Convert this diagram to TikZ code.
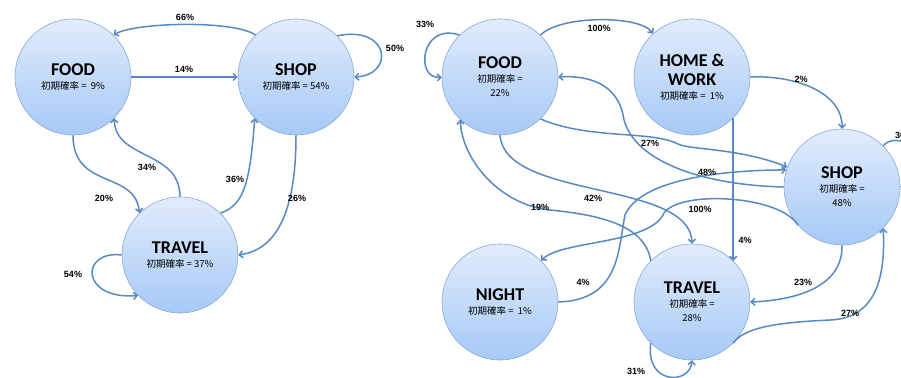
\documentclass[tikz,border=0pt]{standalone}
\usepackage{fontspec}
\setmainfont{Carlito}
\newfontfamily\cjkfont{Noto Sans CJK JP}
\newfontfamily\pctfont{Liberation Sans}
\usetikzlibrary{arrows.meta}
\definecolor{edgeblue}{RGB}{88,137,196}
\definecolor{rimblue}{RGB}{135,168,214}
\definecolor{topblue}{RGB}{226,236,252}
\definecolor{botblue}{RGB}{166,201,247}
\newcommand{\initp}[1]{{\cjkfont\mdseries\fontsize{9.5}{14}\selectfont #1}}
\tikzset{
  state/.style={circle,minimum size=116pt,inner sep=0pt,draw=rimblue,line width=0.6pt,
    top color=topblue,bottom color=botblue,align=center,
    font=\bfseries\fontsize{18}{14}\selectfont},
  trans/.style={->,draw=edgeblue,line width=1.5pt},
  pct/.style={font=\pctfont\bfseries\fontsize{9}{9}\selectfont,inner sep=0pt}
}

\begin{document}
\begin{tikzpicture}[x=1pt,y=-1pt,>={Straight Barb[length=3.5pt,width=7pt]}]
        \useasboundingbox (0,0) rectangle (901,377);
        \clip (0,0) rectangle (901,377);
        % left chain
        \node[state] (lfood) at (73,77) {FOOD\\\initp{初期確率 =\ \ 9\%}};
        \node[state] (lshop) at (296,77) {SHOP\\\initp{初期確率 = 54\%}};
        \node[state] (ltravel) at (180,255) {TRAVEL\\\initp{初期確率 = 37\%}};
        \draw[trans] (lshop.134) .. controls (235,20) and (135,22) .. (lfood.46);
        \draw[trans] (lfood.east) -- (lshop.west);
        \draw[trans] (lshop.45) .. controls (390,25) and (395,75) .. (lshop.east);
        \draw[trans] (lfood.south) .. controls (73,190) and (135,170) .. (ltravel.134);
        \draw[trans] (ltravel.north) .. controls (180,150) and (115,160) .. (lfood.-45);
        \draw[trans] (ltravel.46) .. controls (245,205) and (250,180) .. (lshop.225);
        \draw[trans] (lshop.south) .. controls (296,215) and (275,250) .. (ltravel.east);
        \draw[trans] (ltravel.west) .. controls (80,250) and (80,300) .. (ltravel.224);
        \node[pct] (l66) at (185,17) {66\%};
        \node[pct] (l14) at (184,69) {14\%};
        \node[pct] (l50) at (395,48) {50\%};
        \node[pct] (l20) at (104,198) {20\%};
        \node[pct] (l34) at (147,167) {34\%};
        \node[pct] (l36) at (235,179) {36\%};
        \node[pct] (l26) at (297,198) {26\%};
        \node[pct] (l54) at (73,274) {54\%};
        % right chain
        \node[state] (rfood) at (500,77) {FOOD\\\initp{初期確率 =}\\\initp{22\%}};
        \node[state] (rhome) at (692,77) {HOME \&\\[5pt]WORK\\\initp{初期確率 =\ \ 1\%}};
        \node[state] (rshop) at (842,187) {SHOP\\\initp{初期確率 =}\\\initp{48\%}};
        \node[state] (rnight) at (500,302) {NIGHT\\\initp{初期確率 =\ \ 1\%}};
        \node[state] (rtravel) at (692,302) {TRAVEL\\\initp{初期確率 =}\\\initp{28\%}};
        \draw[trans] (rfood.134) .. controls (420,22) and (415,80) .. (rfood.west);
        \draw[trans] (rfood.46) .. controls (560,15) and (640,15) .. (rhome.132);
        \draw[trans] (rhome.east) .. controls (800,75) and (843,95) .. (rshop.north);
        \draw[trans] (rfood.-46) .. controls (590,140) and (650,130) .. (678,144)
                     .. controls (690,150) and (740,148) .. (rshop.160);
        \draw[trans] (rshop.west) .. controls (700,185) and (630,160) .. (623,115)
                     .. controls (617,85) and (590,75) .. (rfood.east);
        \draw[trans] (rnight.east) .. controls (620,300) and (618,250) .. (625,215)
                     .. controls (640,180) and (720,170) .. (rshop.163);
        \draw[trans] (rshop.221) .. controls (780,195) and (680,190) .. (664,213)
                     .. controls (650,245) and (560,240) .. (rnight.45);
        \draw[trans] (rfood.south) .. controls (505,200) and (690,180) .. (rtravel.north);
        \draw[trans] (rtravel.135) .. controls (645,225) and (600,215) .. (550,210)
                     .. controls (500,205) and (462,160) .. (rfood.227);
        \draw[trans] (rhome.-45) -- (rtravel.45);
        \draw[trans] (rshop.south) .. controls (843,285) and (800,300) .. (rtravel.east);
        \draw[trans] (rtravel.-45) .. controls (745,325) and (790,322) .. (830,320)
                     .. controls (880,318) and (885,270) .. (rshop.-45);
        \draw[trans] (rtravel.225) .. controls (645,385) and (690,385) .. (rtravel.south);
        \draw[trans] (rshop.45) .. controls (900,125) and (960,170) .. (rshop.east);
        \node[pct] (r33) at (425,24) {33\%};
        \node[pct] (r100a) at (599,28) {100\%};
        \node[pct] (r2) at (801,79) {2\%};
        \node[pct] (r27a) at (650,143) {27\%};
        \node[pct] (r48) at (707,172) {48\%};
        \node[pct] (r4a) at (583,282) {4\%};
        \node[pct] (r100b) at (700,209) {100\%};
        \node[pct] (r42) at (593,198) {42\%};
        \node[pct] (r19) at (540,207) {19\%};
        \node[pct] (r4b) at (745,240) {4\%};
        \node[pct] (r23) at (803,282) {23\%};
        \node[pct] (r27b) at (850,313) {27\%};
        \node[pct] (r31) at (636,371) {31\%};
        \node[pct] (r36) at (904,135) {36\%};
      \end{tikzpicture}
\end{document}
